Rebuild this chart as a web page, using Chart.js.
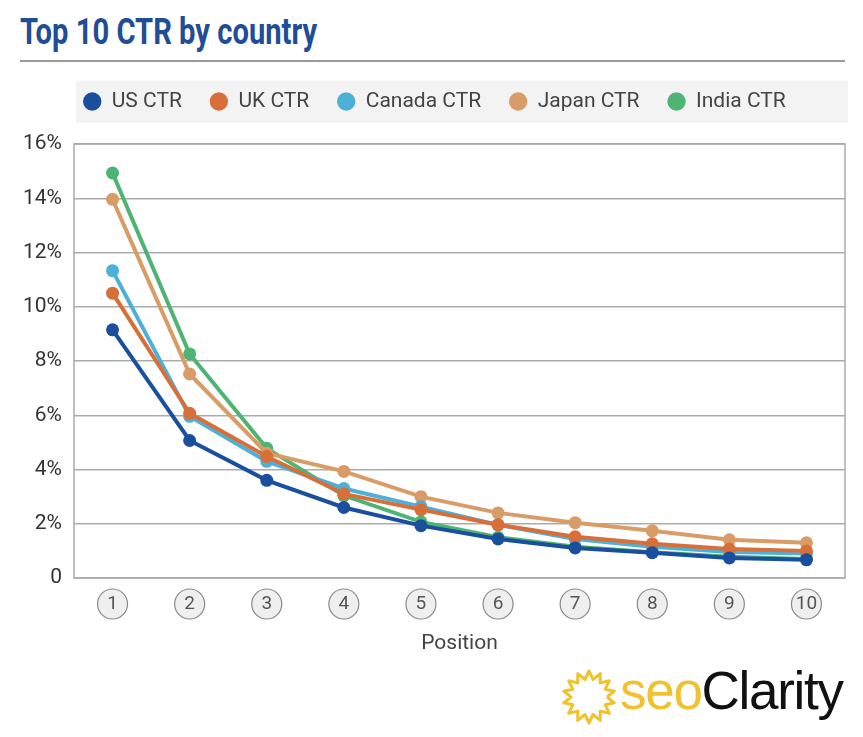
<!DOCTYPE html>
<html>
<head>
<meta charset="utf-8">
<script src="https://cdn.jsdelivr.net/npm/chart.js@4.4.1/dist/chart.umd.min.js"></script>
<style>
  body { margin: 0; background: #fff; width: 863px; height: 737px; overflow: hidden; position: relative; }
  h1 {
    position: absolute; left: 20px; top: 14px; margin: 0; white-space: nowrap;
    font: bold 36px/36px "Roboto", sans-serif;
    color: #1f4e96; transform: scaleX(0.81); transform-origin: 0 0;
  }
  .rule { position: absolute; left: 20px; top: 60px; width: 825px; height: 0; border-top: 2px solid #9a9a9a; }
  #wrap { position: absolute; left: 24px; top: 63px; width: 839px; height: 605px; }
  #logo { position: absolute; left: 560px; top: 664px; height: 56px; }
  #logo svg { position: absolute; left: 0; top: 4px; }
  #logo span {
    position: absolute; left: 60px; top: -4px; white-space: nowrap;
    font: 53px "Liberation Sans", Arial, sans-serif; letter-spacing: -1.3px;
  }
</style>
</head>
<body>
<h1>Top 10 CTR by country</h1>
<div class="rule"></div>
<div id="wrap"><canvas id="ctrChart"></canvas></div>
<div id="logo">
  <svg width="58" height="58" viewBox="0 0 58 58"><polyline id="sun" fill="none" stroke="#f2c12e" stroke-width="3" stroke-linejoin="round"/></svg>
  <span><span style="position:static;color:#f2c12e;font-size:53px">seo</span><span style="position:static;color:#111;font-size:53px">Clarity</span></span>
</div>
<script>
// Позиції в топ-10 та CTR (%) по країнах
const positions = ["1", "2", "3", "4", "5", "6", "7", "8", "9", "10"];
const usCTR     = [9.15, 5.07, 3.6, 2.6, 1.93, 1.44, 1.11, 0.93, 0.74, 0.67];
const ukCTR     = [10.5, 6.07, 4.48, 3.1, 2.52, 1.96, 1.52, 1.26, 1.07, 1.0];
const canadaCTR = [11.33, 5.96, 4.3, 3.3, 2.63, 1.96, 1.44, 1.15, 0.96, 0.9];
const japanCTR  = [13.96, 7.52, 4.6, 3.93, 3.0, 2.4, 2.04, 1.74, 1.41, 1.3];
const indiaCTR  = [14.93, 8.26, 4.78, 3.04, 2.07, 1.5, 1.15, 0.95, 0.78, 0.7];
const yTicks    = [0, 2, 4, 6, 8, 10, 12, 14, 16];

const font = '"Roboto", sans-serif';

// Логотип: зубчасте кільце
(function () {
    const pts = [];
    const n = 28;
    for (let i = 0; i <= n; i++) {
        const a = i / n * Math.PI * 2;
        const r = i % 2 ? 26 : 18;
        pts.push((29 + r * Math.cos(a)).toFixed(1) + "," + (29 + r * Math.sin(a)).toFixed(1));
    }
    document.getElementById("sun").setAttribute("points", pts.join(" "));
})();

function series(label, data, color) {
    return {
        label: label,
        data: data,
        xAxisID: "x",
        yAxisID: "y",
        borderColor: color,
        backgroundColor: color,
        pointBackgroundColor: color,
        pointBorderWidth: 0,
        pointRadius: 6.5,
        borderWidth: 4,
        tension: 0
    };
}

// Фон легенди, рамка графіка та кружечки навколо позицій
const decor = {
    id: "decor",
    beforeDraw(chart) {
        const ctx = chart.ctx;
        const area = chart.chartArea;
        const hb = chart.legend.legendHitBoxes[0];
        ctx.save();
        ctx.fillStyle = "#f3f3f3";
        const cy = hb.top + hb.height / 2;
        ctx.fillRect(area.left + 2, cy - 21, area.right - area.left + 1, 42);
        const x = chart.scales.x;
        ctx.fillStyle = "#efefef";
        ctx.strokeStyle = "#8a8a8a";
        ctx.lineWidth = 1.2;
        positions.forEach((p, i) => {
            ctx.beginPath();
            ctx.arc(x.getPixelForTick(i), x.top + 26, 15, 0, Math.PI * 2);
            ctx.fill();
            ctx.stroke();
        });
        ctx.restore();
    },
    beforeDatasetsDraw(chart) {
        const ctx = chart.ctx;
        const a = chart.chartArea;
        ctx.save();
        ctx.strokeStyle = "#ababab";
        ctx.lineWidth = 1.5;
        ctx.strokeRect(a.left, a.top, a.right - a.left, a.bottom - a.top);
        ctx.restore();
    }
};

new Chart(document.getElementById("ctrChart").getContext("2d"), {
    type: "line",
    data: {
        labels: positions,
        datasets: [
            series("US CTR", usCTR, "#1a4f9f"),
            series("UK CTR", ukCTR, "#d96f38"),
            series("Canada CTR", canadaCTR, "#4db0d9"),
            series("Japan CTR", japanCTR, "#d99c67"),
            series("India CTR", indiaCTR, "#4eb474")
        ]
    },
    options: {
        responsive: true,
        maintainAspectRatio: false,
        animation: false,
        layout: { padding: { top: 0, right: 18, bottom: 8, left: 0 } },
        plugins: {
            tooltip: { enabled: false },
            legend: {
                position: "top",
                align: "center",
                labels: {
                    usePointStyle: true,
                    pointStyle: "circle",
                    boxWidth: 18,
                    boxHeight: 13,
                    padding: 28,
                    color: "#444",
                    font: { family: font, size: 21 }
                }
            }
        },
        scales: {
            x: {
                offset: true,
                grid: { display: false, drawTicks: false },
                border: { display: false },
                ticks: { padding: 15, color: "#555", font: { family: font, size: 19 } },
                title: {
                    display: true,
                    text: "Position",
                    color: "#444",
                    padding: { top: 0 },
                    font: { family: font, size: 21 }
                }
            },
            // порожня смуга між легендою та графіком
            gap: {
                type: "category",
                position: "top",
                afterFit(scale) { scale.height = 22; },
                grid: { display: false },
                border: { display: false },
                ticks: { display: false }
            },
            y: {
                min: 0,
                max: 16,
                afterFit(scale) { scale.width = 50; },
                afterBuildTicks(scale) { scale.ticks = yTicks.map(v => ({ value: v })); },
                grid: { color: "#ababab", lineWidth: 1.5, drawTicks: false },
                border: { display: false },
                ticks: {
                    padding: 12,
                    color: "#333",
                    font: { family: font, size: 21 },
                    callback: v => v === 0 ? "0" : v + "%"
                }
            }
        }
    },
    plugins: [decor]
});
</script>
</body>
</html>
